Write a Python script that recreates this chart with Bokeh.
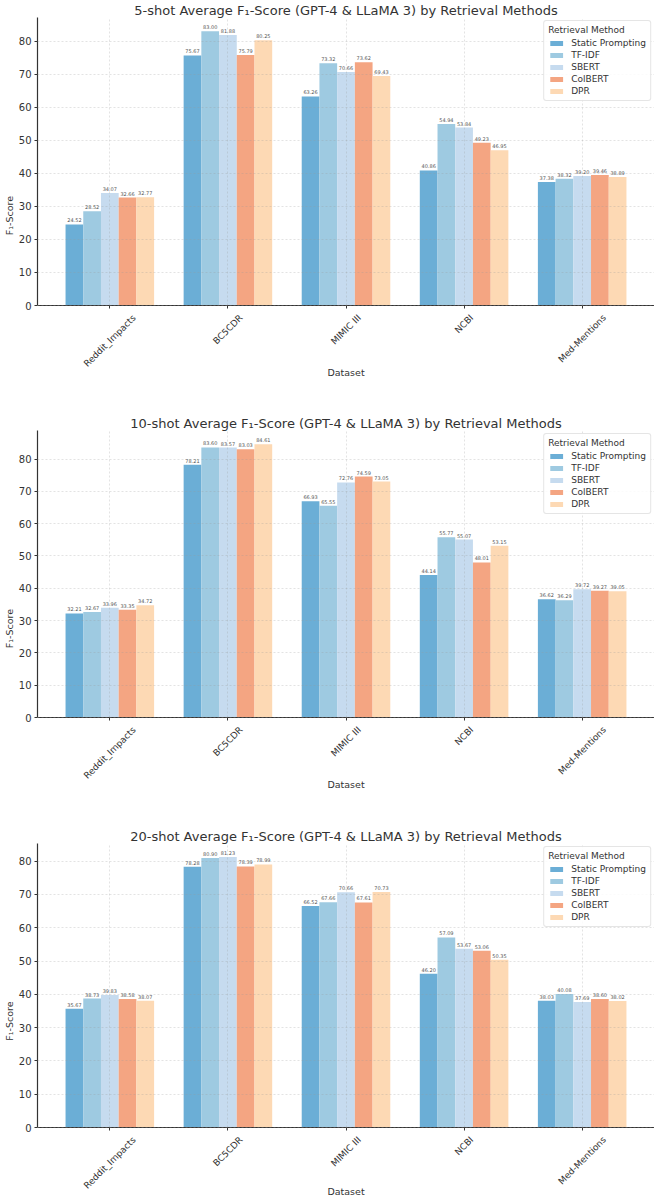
import numpy as np
from bokeh.plotting import figure
from bokeh.layouts import column
from bokeh.models import (ColumnDataSource, Range1d, FixedTicker, Legend, LegendItem,
                          Title)
from bokeh.transform import dodge
from bokeh.core.properties import value
from bokeh.embed import file_html
from bokeh.resources import INLINE

datasets = ["Reddit_Impacts", "BC5CDR", "MIMIC III", "NCBI", "Med-Mentions"]
methods = ["Static Prompting", "TF-IDF", "SBERT", "ColBERT", "DPR"]
colors = ["#6baed6", "#9ecae1", "#c6dbef", "#f4a582", "#fdd9b4"]

# values[method][dataset]
shot5 = {
    "Static Prompting": [24.52, 75.67, 63.26, 40.86, 37.38],
    "TF-IDF":           [28.52, 83.00, 73.32, 54.94, 38.32],
    "SBERT":            [34.07, 81.88, 70.66, 53.84, 39.20],
    "ColBERT":          [32.66, 75.79, 73.62, 49.23, 39.46],
    "DPR":              [32.77, 80.25, 69.43, 46.95, 38.89],
}
shot10 = {
    "Static Prompting": [32.21, 78.21, 66.93, 44.14, 36.62],
    "TF-IDF":           [32.67, 83.60, 65.55, 55.77, 36.29],
    "SBERT":            [33.96, 83.57, 72.76, 55.07, 39.72],
    "ColBERT":          [33.35, 83.03, 74.59, 48.01, 39.27],
    "DPR":              [34.72, 84.61, 73.05, 53.15, 39.05],
}
shot20 = {
    "Static Prompting": [35.67, 78.28, 66.52, 46.20, 38.03],
    "TF-IDF":           [38.73, 80.90, 67.66, 57.09, 40.08],
    "SBERT":            [39.83, 81.23, 70.66, 53.67, 37.69],
    "ColBERT":          [38.58, 78.39, 67.61, 53.06, 38.60],
    "DPR":              [38.07, 78.99, 70.73, 50.35, 38.02],
}
panels = [("5-shot", shot5), ("10-shot", shot10), ("20-shot", shot20)]

FONT = "DejaVu Sans"
bar_w = 0.15
XLAB_FS = 9.0

# approximate DejaVu Sans advance widths (em) for centring rotated tick labels
_W = {"R": .695, "e": .615, "d": .635, "i": .278, "t": .392, "_": .5, "I": .295,
      "m": .974, "p": .635, "a": .613, "c": .55, "s": .521, "B": .686, "C": .698,
      "5": .636, "D": .770, "M": .863, " ": .318, "N": .748, "-": .361, "n": .634,
      "o": .612}


def text_len(s, fs):
    return sum(_W.get(ch, 0.6) for ch in s) * fs


# (plot-area px above the x axis, px below the x axis inside the frame, Dataset offset)
layouts = [(288, 108, 67), (287, 109, 67), (284, 71, 64)]


def make_panel(label, data, plot_px, below_px, ds_off):
    maxv = max(max(v) for v in data.values())
    top = maxv * 1.05
    bottom = -below_px * top / plot_px
    xr = Range1d(-0.6125, 4.6125)
    p = figure(frame_width=617, frame_height=plot_px + below_px, output_backend="svg",
               toolbar_location=None, x_range=xr, y_range=Range1d(bottom, top),
               min_border_left=28, min_border_right=0, min_border_top=12,
               min_border_bottom=0)
    p.title.text = f"{label} Average F\u2081-Score (GPT-4 & LLaMA 3) by Retrieval Methods"
    p.title.align = "center"
    p.title.text_font = FONT
    p.title.text_font_style = "normal"
    p.title.text_font_size = "13px"
    p.title.text_color = "#333333"
    p.title.standoff = 0
    p.title.offset = 0
    p.outline_line_color = None
    p.background_fill_color = "white"
    p.border_fill_color = "white"

    items = []
    n = len(methods)
    for i, (m, c) in enumerate(zip(methods, colors)):
        off = (i - (n - 1) / 2) * bar_w
        vals = data[m]
        src = ColumnDataSource(dict(
            x=list(range(len(datasets))),
            top=vals,
            lab=[f"{v:.2f}" for v in vals],
        ))
        r = p.vbar(x=dodge("x", off), top="top", width=bar_w, source=src,
                   fill_color=c, line_color=None)
        p.text(x=dodge("x", off), y="top", text="lab", source=src,
               text_font=value(FONT), text_font_size="5px", text_color="#555555",
               text_align="center", text_baseline="bottom", y_offset=-2)
        items.append(LegendItem(label=m, renderers=[r]))

    leg = Legend(items=items, location="top_right", title="Retrieval Method")
    leg.title_text_font = FONT
    leg.title_text_font_size = "9px"
    leg.title_text_font_style = "normal"
    leg.title_text_color = "#333333"
    leg.title_standoff = 3
    leg.label_text_font = FONT
    leg.label_text_font_size = "9px"
    leg.label_text_color = "#333333"
    leg.glyph_width = 16
    leg.glyph_height = 6
    leg.label_height = 9
    leg.spacing = 2
    leg.padding = 4
    leg.margin = 3
    leg.label_standoff = 7
    leg.border_line_color = "#cccccc"
    leg.border_radius = 3
    leg.background_fill_alpha = 0.85
    p.add_layout(leg)

    # x tick labels: rotated 45 degrees and centred under each tick
    offs = []
    for d in datasets:
        L = text_len(d, XLAB_FS)
        H = XLAB_FS * 1.15
        offs.append(7 + (L + H) * 0.7071 / 2)
    tsrc = ColumnDataSource(dict(x=list(range(len(datasets))), y=[0] * len(datasets),
                                 name=datasets, yo=offs))
    p.text(x="x", y="y", text="name", y_offset="yo", source=tsrc, angle=np.pi / 4,
           text_align="center", text_baseline="middle", text_font=value(FONT),
           text_font_size=f"{XLAB_FS}px", text_color="#333333")
    p.text(x=[(xr.start + xr.end) / 2], y=[0], text=["Dataset"], y_offset=ds_off,
           text_align="center", text_baseline="middle", text_font=value(FONT),
           text_font_size="9.5px", text_color="#333333")

    # y axis label, centred on the plotting area above the x axis
    ylab = Title(text="F\u2081-Score", align="center", offset=below_px,
                 text_font=FONT, text_font_style="normal", text_font_size="9.5px",
                 text_color="#333333", standoff=2)
    p.add_layout(ylab, "left")

    # axes
    p.xaxis.fixed_location = 0
    p.xaxis.ticker = FixedTicker(ticks=list(range(len(datasets))))
    p.xaxis.major_label_text_font_size = "0px"
    p.xaxis.major_label_overrides = {i: "" for i in range(len(datasets))}
    p.yaxis.ticker = FixedTicker(ticks=list(range(0, 90, 10)))
    p.yaxis.bounds = (0, top)
    for ax in (p.xaxis, p.yaxis):
        ax.axis_line_color = "#333333"
        ax.axis_line_width = 1.2
        ax.major_tick_line_color = "#333333"
        ax.major_tick_out = 3
        ax.major_tick_in = 0
        ax.minor_tick_line_color = None
        ax.major_label_text_font = FONT
        ax.major_label_text_color = "#333333"
    p.yaxis.major_label_text_font_size = "10px"
    p.yaxis.major_label_standoff = 3

    for g in (p.xgrid, p.ygrid):
        g.grid_line_color = "#999999"
        g.grid_line_alpha = 0.35
        g.grid_line_dash = "2 2"
        g.grid_line_width = 0.8
        g.level = "overlay"
    p.xgrid.cross_bounds = (0, top)
    return p


figs = [make_panel(lab, d, a, b, c) for (lab, d), (a, b, c) in zip(panels, layouts)]
layout = column(*figs, spacing=0)
open("out.html", "w").write(file_html(layout, INLINE))
